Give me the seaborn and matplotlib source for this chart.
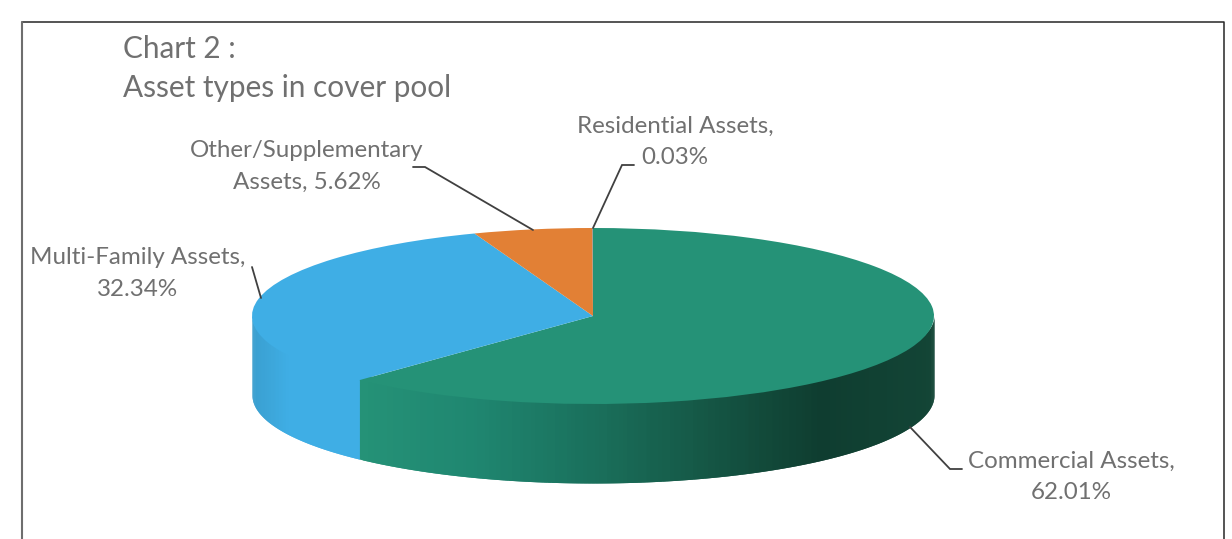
import numpy as np
import matplotlib
matplotlib.use('Agg')
import matplotlib.pyplot as plt
import seaborn as sns

# values from the chart, starting at 12 o'clock and going clockwise
categories = ['Commercial Assets', 'Multi-Family Assets', 'Other/Supplementary Assets', 'Residential Assets']
shares = [62.01, 32.34, 5.62, 0.03]
top_colors = ['#259277', '#3FAEE5', '#E28035', '#7F7F7F']

W, H = 1232, 539
CX, CY = 593, 316
RX, RY = 341, 88
DEPTH = 79
TEXT = '#707070'
LINE = '#404040'


def px(x, y):
	# picture pixels to data units of the squashed pie
	return (x - CX) / RX, (CY - y) / RY


def wall(ax, start, end, shade):
	# front wall of one slice, only the part facing the viewer
	lo, hi = max(start, -180), min(end, 0)
	if lo >= hi:
		return
	n = max(int((hi - lo) * 1.5), 2)
	t = np.radians(np.linspace(lo, hi, n + 1))
	for i in range(n):
		# each strip runs one step too far, the next one paints over it: no seams
		xs = np.cos(t[i:i + 3])
		ys = np.sin(t[i:i + 3])
		c = shade((np.cos(t[i]) + 1) / 2)
		# top edge tucked under the pie face so the rim shows no light line
		ax.fill_between(xs, ys * 0.9, ys - DEPTH / RY, color=c, lw=0, zorder=1)


sns.set_theme(style='white')
green_wall = sns.blend_palette(['#259277', '#1F8670', '#1A705C', '#155745', '#0F3D30', '#134536'], 101)
blue_wall = sns.blend_palette(['#3A9FD0', '#3FAEE5', '#3FAEE5', '#3FAEE5'], 101)

fig = plt.figure(figsize=(W / 100, H / 100), dpi=100, facecolor='white')
ax = fig.add_axes([0, 0, 1, 1])

angles = 90 - np.cumsum([0] + shares) * 3.6
wall(ax, angles[2], angles[1], lambda v: blue_wall[min(int(round(v * 100 / 0.157)), 100)])
wall(ax, angles[1], angles[0], lambda v: green_wall[int(round((v - 0.157) / 0.843 * 100))])

wedges, _ = ax.pie(shares, colors=top_colors, startangle=90, counterclock=False, radius=1,
	center=(0, 0), wedgeprops={'linewidth': 0})
for w in wedges:
	w.set_zorder(2)

ax.set_aspect('auto')
ax.set_xlim(px(0, 0)[0], px(W, 0)[0])
ax.set_ylim(px(0, H)[1], px(0, 0)[1])
ax.axis('off')

# frame runs off the bottom of the picture
fx, fy = zip(*[px(22, 22), px(1224, 22), px(1224, H + 5)])
ax.plot(fx, fy, color='#262626', lw=1.1, zorder=3)
fx, fy = zip(*[px(22, H + 5), px(22, 22)])
ax.plot(fx, fy, color='#6E6E6E', lw=1.5, zorder=3)

leaders = [
	[(593, 228), (622, 165), (634, 165)],
	[(533, 230), (425, 167), (413, 167)],
	[(261, 298), (252, 267)],
	[(910, 427), (950, 469), (962, 469)],
]
for pts in leaders:
	lx, ly = zip(*[px(*p) for p in pts])
	ax.plot(lx, ly, color=LINE, lw=1.3, zorder=3, solid_joinstyle='miter')

font = {'family': 'Lato', 'weight': 'normal', 'color': TEXT}
labels = [
	('Residential Assets,\n0.03%', 675, 141.5),
	('Other/Supplementary\nAssets, 5.62%', 307, 166.5),
	('Multi-Family Assets,\n32.34%', 138, 273.5),
	('Commercial Assets,\n62.01%', 1071, 477),
]
for text, x, y in labels:
	ax.text(*px(x, y), text, ha='center', va='center', fontsize=17.4, linespacing=1.6, zorder=4, **font)

ax.text(*px(123, 49), 'Chart 2 :', ha='left', va='center', fontsize=21.4, zorder=4, **font)
ax.text(*px(123, 88), 'Asset types in cover pool', ha='left', va='center', fontsize=21.4, zorder=4, **font)

fig.savefig('out.png', dpi=100)
